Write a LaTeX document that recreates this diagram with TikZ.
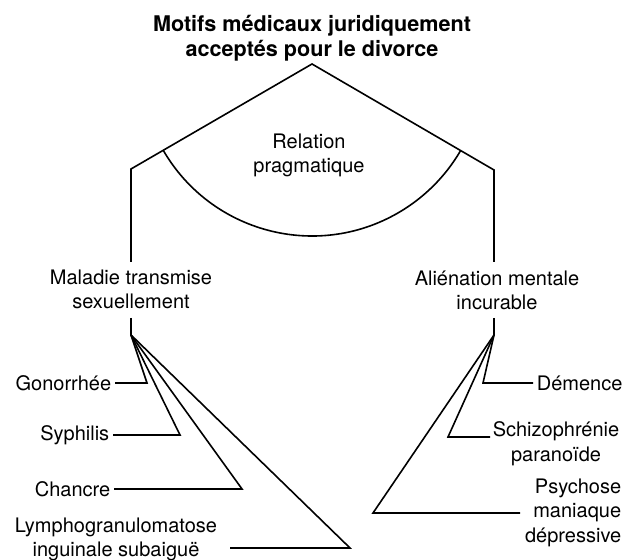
\documentclass[tikz,border=0pt]{standalone}
\usepackage{fontspec}
\setmainfont{TeX Gyre Heros}
\usetikzlibrary{positioning}
\tikzset{lbl/.style = {align = center, inner sep = 0, font = \fontsize{10}{12.2}\selectfont}}
\tikzset{leaf/.style = {inner sep = 1.5pt, font = \fontsize{10}{12.2}\selectfont}}
\tikzset{heading/.style = {align = center, inner sep = 0, font = \fontsize{10.8}{12.5}\selectfont\bfseries}}

\begin{document}
\begin{tikzpicture}[x=0.5pt, y=0.5pt, line width=0.8pt]
      \useasboundingbox (0, 0) rectangle (640, 560);

      \node [heading, anchor=north] at (312, 546) (title) {Motifs médicaux juridiquement\\acceptés pour le divorce};

      \coordinate (apex) at (312, 496);
      \coordinate (leftcorner) at (131, 391);
      \coordinate (rightcorner) at (494, 390);
      \coordinate (leftfoot) at (131, 298);
      \coordinate (rightfoot) at (494, 298);

      \node [lbl, anchor=north] at (309, 427) (relation) {Relation\\pragmatique};
      \node [lbl, anchor=north] at (131, 291) (maladie) {Maladie transmise\\sexuellement};
      \node [lbl, anchor=north] at (497, 290) (alienation) {Aliénation mentale\\incurable};

      \draw (leftfoot) -- (leftcorner) -- (apex) -- (rightcorner) -- (rightfoot);
      \draw (apex) ++(210.1:172) arc [start angle=210.1, end angle=329.8, radius=172];

      % sexually transmitted
      \coordinate (lefttick) at (131, 242);
      \coordinate (leftroot) at (131, 225);
      \coordinate (gon) at (147, 177);
      \coordinate (syp) at (180, 125);
      \coordinate (cha) at (242, 71);
      \coordinate (lym) at (350, 12);
      \coordinate (lymstart) at (230, 12);

      \node [leaf, anchor=east] at (115, 177) (gonorrhee) {Gonorrhée};
      \node [leaf, anchor=east] at (113, 125) (syphilis) {Syphilis};
      \node [leaf, anchor=east] at (114, 71) (chancre) {Chancre};
      \node [lbl, anchor=north] at (116, 43) (lympho) {Lymphogranulomatose\\inguinale subaiguë};

      \draw (lefttick) -- (leftroot);
      \draw (gonorrhee.east) -- (gon) -- (leftroot);
      \draw (syphilis.east) -- (syp) -- (leftroot);
      \draw (chancre.east) -- (cha) -- (leftroot);
      \draw (lymstart) -- (lym) -- (leftroot);

      % mental illness
      \coordinate (righttick) at (494, 242);
      \coordinate (rightroot) at (494, 225);
      \coordinate (dem) at (483, 177);
      \coordinate (sch) at (448, 123);
      \coordinate (schend) at (490, 123);
      \coordinate (psy) at (373, 47);
      \coordinate (psyend) at (520, 47);

      \node [leaf, anchor=west] at (533, 177) (demence) {Démence};
      \node [lbl, anchor=north] at (556, 139) (schizo) {Schizophrénie\\paranoïde};
      \node [lbl, align=right, anchor=north east] at (622, 82) (psychose) {Psychose\\maniaque\\dépressive};

      \draw (righttick) -- (rightroot);
      \draw (demence.west) -- (dem) -- (rightroot);
      \draw (schend) -- (sch) -- (rightroot);
      \draw (psyend) -- (psy) -- (rightroot);
    \end{tikzpicture}
\end{document}
